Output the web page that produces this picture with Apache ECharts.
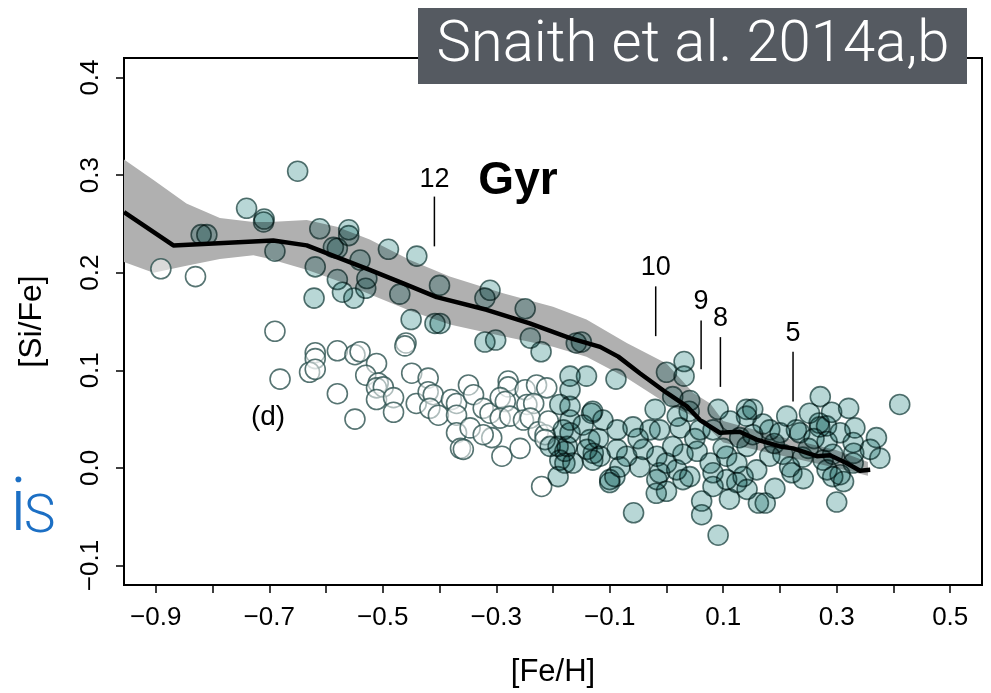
<!DOCTYPE html>
<html>
<head>
<meta charset="utf-8">
<script src="https://cdn.jsdelivr.net/npm/echarts@6/dist/echarts.min.js"></script>
<style>
html,body{margin:0;padding:0;background:#fff;}
#chart{width:991px;height:693px;}
</style>
</head>
<body>
<div id="chart"></div>
<script>
// ---- axis ticks ----
var xTickValues = [-0.9,-0.8,-0.7,-0.6,-0.5,-0.4,-0.3,-0.2,-0.1,0,0.1,0.2,0.3,0.4,0.5];
var xLabelValues = [-0.9,-0.7,-0.5,-0.3,-0.1,0.1,0.3,0.5];
var yTickValues = [-0.1,0,0.1,0.2,0.3,0.4];

// ---- model curve (black line) ----
var lineX = [-0.956,-0.869,-0.693,-0.634,-0.581,-0.523,-0.464,-0.405,-0.317,-0.241,-0.170,-0.117,-0.085,-0.047,0.000,0.036,0.059,0.094,0.129,0.159,0.200,0.223,0.265,0.288,0.317,0.341,0.359];
var lineY = [0.262,0.228,0.233,0.228,0.216,0.203,0.189,0.175,0.162,0.148,0.133,0.124,0.114,0.097,0.077,0.063,0.049,0.036,0.037,0.029,0.022,0.020,0.012,0.013,0.005,-0.003,-0.002];

// ---- grey band ----
var bandX    = [-0.956,-0.904,-0.846,-0.787,-0.728,-0.699,-0.634,-0.581,-0.523,-0.452,-0.382,-0.288,-0.200,-0.141,-0.070,0.000,0.047,0.077,0.100,0.200,0.300,0.355];
var bandHigh = [0.316,0.295,0.271,0.256,0.252,0.252,0.254,0.247,0.234,0.213,0.196,0.179,0.165,0.152,0.128,0.107,0.077,0.066,0.048,0.032,0.018,0.006];
var bandLow  = [0.211,0.200,0.207,0.214,0.218,0.214,0.203,0.192,0.178,0.161,0.147,0.135,0.124,0.114,0.092,0.066,0.053,0.039,0.026,0.013,0.000,-0.008];

// ---- age markers ----
var ageLabels = ['12','10','9','8','5'];
var ageX      = [-0.409,-0.019,0.061,0.095,0.223];
var ageBottom = [0.227,0.135,0.101,0.083,0.068];
var ageTop    = [0.278,0.186,0.151,0.134,0.119];
var ageText   = [0.295,0.205,0.170,0.153,0.138];

// ---- filled stars ----
var filledX = [
-0.650,-0.740,-0.709,-0.710,-0.820,-0.810,-0.690,-0.611,-0.560,-0.560,-0.619,-0.587,-0.580,-0.540,-0.580,-0.528,-0.530,-0.621,-0.571,-0.551,-0.490,-0.440,-0.400,-0.470,-0.450,-0.408,-0.399,-0.311,-0.320,-0.249,-0.320,-0.301,-0.240,-0.221,-0.159,-0.150,
-0.089,0.000,0.031,0.031,0.011,0.041,0.040,-0.020,0.019,0.091,0.141,0.152,0.141,0.112,0.212,0.252,0.271,0.291,0.321,0.411,0.332,0.370,0.269,0.282,0.229,
-0.170,-0.141,-0.170,-0.188,-0.170,-0.170,-0.132,-0.182,-0.170,-0.191,-0.179,-0.179,-0.191,-0.135,-0.129,
0.376,0.359,0.300,0.312,0.241,0.221,0.191,0.162,0.174,0.111,0.091,0.062,0.062,-0.058,-0.100,-0.091,-0.018,0.000,
-0.130,-0.112,-0.147,-0.087,-0.059,-0.029,-0.012,0.024,0.059,0.082,0.129,0.152,0.182,0.200,0.235,0.270,0.283,0.306,0.329,
-0.205,-0.175,-0.140,-0.117,-0.087,-0.070,-0.041,-0.017,0.011,0.029,0.054,0.077,0.106,0.124,0.142,0.182,0.205,0.240,0.276,0.293,0.329,
-0.188,-0.165,-0.130,-0.082,-0.047,-0.012,0.018,0.041,0.082,0.106,0.135,0.159,0.217,0.283,0.306,
-0.100,-0.017,0.029,0.082,0.124,0.142,0.293,
0.050,-0.050,0.170,0.250,0.330,0.000,-0.120,0.190,0.260,0.100
];
var filledY = [
0.304,0.266,0.255,0.252,0.239,0.239,0.222,0.245,0.244,0.238,0.206,0.226,0.225,0.213,0.193,0.194,0.184,0.174,0.180,0.174,0.224,0.217,0.187,0.178,0.152,0.148,0.148,0.182,0.174,0.163,0.129,0.131,0.133,0.119,0.128,0.129,
0.091,0.098,0.109,0.094,0.073,0.069,0.058,0.060,0.053,0.060,0.060,0.060,0.053,0.048,0.053,0.056,0.073,0.057,0.061,0.065,0.041,0.031,0.046,0.043,0.039,
0.094,0.094,0.080,0.065,0.063,0.049,0.056,0.039,0.036,0.022,0.017,0.005,-0.009,0.029,0.015,
0.010,0.019,-0.035,-0.014,-0.011,-0.005,-0.021,-0.036,-0.036,-0.032,-0.069,-0.034,-0.048,-0.046,-0.015,-0.009,-0.026,-0.024,
0.058,0.049,0.044,0.039,0.042,0.039,0.039,0.041,0.039,0.039,0.031,0.034,0.039,0.036,0.036,0.042,0.027,0.036,0.026,
0.022,0.022,0.019,0.012,0.019,0.012,0.019,0.012,0.022,0.014,0.017,0.005,0.012,0.005,0.022,0.012,0.014,0.011,0.008,0.014,0.005,
0.008,0.005,0.008,0.001,0.001,-0.005,-0.002,-0.009,-0.005,-0.012,-0.009,-0.002,0.001,-0.002,-0.007,
-0.012,-0.012,-0.012,-0.019,-0.015,-0.022,-0.009,
0.030,0.030,0.045,0.020,0.015,0.005,0.030,0.025,0.030,0.020
];

// ---- open stars ----
var openX = [-0.891,-0.830,-0.690,-0.459,-0.681,-0.619,-0.619,-0.629,-0.619,-0.580,-0.549,-0.540,-0.580,-0.549,-0.511,-0.530,-0.508,-0.511,-0.499,-0.511,-0.481,-0.481,-0.461,-0.449,-0.420,-0.441,-0.420,-0.411,-0.417,-0.402,-0.379,-0.370,-0.370,-0.370,-0.346,-0.363,-0.358,-0.349,-0.340,-0.323,-0.311,-0.308,-0.290,-0.279,-0.279,-0.293,-0.284,-0.293,-0.276,-0.258,-0.249,-0.229,-0.211,-0.246,-0.234,-0.252,-0.240,-0.226,-0.214,-0.208,-0.220,-0.323,-0.214];
var openY = [0.204,0.196,0.140,0.128,0.091,0.118,0.112,0.098,0.101,0.120,0.116,0.119,0.076,0.050,0.107,0.095,0.087,0.082,0.083,0.070,0.072,0.057,0.125,0.097,0.092,0.066,0.078,0.075,0.061,0.054,0.070,0.066,0.054,0.036,0.041,0.020,0.019,0.085,0.075,0.061,0.056,0.031,0.012,0.089,0.083,0.072,0.068,0.051,0.053,0.020,0.080,0.085,0.082,0.065,0.066,0.049,0.051,0.037,0.034,0.048,-0.019,0.034,0.029];

function pairs(xs, ys){ return xs.map(function(x,i){ return [x, ys[i]]; }); }
function fmt(v){ var s = (Math.round(v*10)/10).toFixed(1); return s.replace('-', '\u2212'); }

var chart = echarts.init(document.getElementById('chart'), null, {renderer:'canvas'});
var FONT = 'Liberation Sans';
var STROKE = '#2c514f';

var option = {
  animation: false,
  backgroundColor: '#fff',
  grid: {left:124, top:58, width:858, height:528, show:true, borderColor:'#000', borderWidth:2, backgroundColor:'transparent', containLabel:false},
  xAxis: {
    type:'value', min:-0.956, max:0.556,
    name:'[Fe/H]', nameLocation:'middle', nameGap:72,
    nameTextStyle:{fontFamily:FONT, fontSize:31, color:'#000'},
    axisLine:{show:false, onZero:false},
    splitLine:{show:false},
    axisTick:{show:true, customValues:xTickValues, length:8, inside:false, lineStyle:{color:'#000', width:1.5}},
    axisLabel:{customValues:xLabelValues, formatter:fmt, fontFamily:FONT, fontSize:26, color:'#000', margin:20}
  },
  yAxis: {
    type:'value', min:-0.12, max:0.42,
    name:'[Si/Fe]', nameLocation:'middle', nameGap:76,
    nameTextStyle:{fontFamily:FONT, fontSize:32, color:'#000'},
    axisLine:{show:false, onZero:false},
    splitLine:{show:false},
    axisTick:{show:true, customValues:yTickValues, length:8, inside:false, lineStyle:{color:'#000', width:1.5}},
    axisLabel:{customValues:yTickValues, formatter:fmt, rotate:90, fontFamily:FONT, fontSize:26, color:'#000', margin:20}
  },
  series: [
    {
      type:'custom', name:'band', clip:true, z:1, silent:true,
      data: bandX.map(function(x,i){ return [x, bandLow[i], bandHigh[i]]; }),
      encode:{x:0, y:[1,2]},
      renderItem: function(params, api){
        if (params.dataIndex !== 0) return null;
        var pts = [];
        for (var i=0;i<bandX.length;i++) pts.push(api.coord([bandX[i], bandHigh[i]]));
        for (var j=bandX.length-1;j>=0;j--) pts.push(api.coord([bandX[j], bandLow[j]]));
        return {type:'polygon', shape:{points:pts}, style:{fill:'#b0b0b0', stroke:null}};
      }
    },
    {
      type:'scatter', name:'open', z:2, symbol:'circle', symbolSize:20,
      data: pairs(openX, openY),
      itemStyle:{color:'rgba(255,255,255,0.65)', borderColor:STROKE, borderWidth:1.6}
    },
    {
      type:'scatter', name:'filled', z:3, symbol:'circle', symbolSize:20,
      blendMode:'multiply',
      data: pairs(filledX, filledY),
      itemStyle:{color:'#a6cdcc', borderColor:STROKE, borderWidth:1.6}
    },
    {
      type:'line', name:'model', z:4, symbol:'none', clip:true,
      data: pairs(lineX, lineY),
      lineStyle:{color:'#000', width:4.5, join:'round'}
    },
    {
      type:'custom', name:'ages', z:5, silent:true, clip:false,
      data: ageX.map(function(x,i){ return [x, ageBottom[i], ageTop[i], ageText[i], i]; }),
      encode:{x:0, y:[1,2]},
      renderItem: function(params, api){
        var i = params.dataIndex;
        var p0 = api.coord([ageX[i], ageBottom[i]]);
        var p1 = api.coord([ageX[i], ageTop[i]]);
        var pt = api.coord([ageX[i], ageText[i]]);
        return {type:'group', children:[
          {type:'line', shape:{x1:p0[0], y1:p0[1], x2:p1[0], y2:p1[1]}, style:{stroke:'#000', lineWidth:1.5}},
          {type:'text', x:pt[0], y:pt[1], style:{text:ageLabels[i], fill:'#000', font:'27px "Liberation Sans"', align:'center', verticalAlign:'middle'}}
        ]};
      }
    }
  ],
  graphic: [
    {type:'rect', left:418, top:8, shape:{width:549, height:76}, style:{fill:'#555a61'}, z:10},
    {type:'text', x:693, y:46, style:{text:'Snaith et al. 2014a,b', fill:'#fff', font:'300 58px Roboto', align:'center', verticalAlign:'middle'}, z:11},
    {type:'text', x:518, y:181, style:{text:'Gyr', fill:'#000', font:'bold 46px "Liberation Sans"', align:'center', verticalAlign:'middle'}, z:11},
    {type:'text', x:268, y:417, style:{text:'(d)', fill:'#000', font:'28px "Liberation Sans"', align:'center', verticalAlign:'middle'}, z:11},
    {type:'text', x:10, y:511, style:{text:'i', fill:'#1c6fc4', font:'300 74px Roboto', align:'left', verticalAlign:'middle'}, z:11},
    {type:'text', x:24, y:519, style:{text:'S', fill:'#1c6fc4', font:'300 53px Roboto', align:'left', verticalAlign:'middle'}, z:11}
  ]
};
chart.setOption(option);
</script>
</body>
</html>
